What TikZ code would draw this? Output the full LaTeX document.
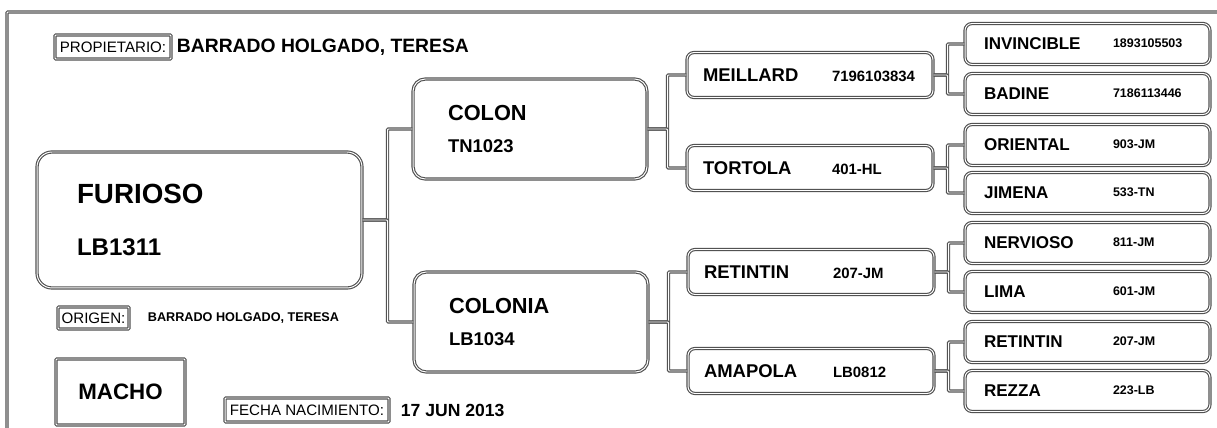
\documentclass[tikz,border=0pt]{standalone}
\usepackage{fontspec}
\setmainfont{Liberation Sans}
\usetikzlibrary{positioning}
\newcommand\idb[1]{{\fontsize{8.5}{10}\selectfont#1}}
\newcommand\idc[1]{\raisebox{1.2pt}{\fontsize{7.1}{9}\selectfont#1}}
\tikzset{dl/.style={draw=black!68,double=white,double distance=0.55pt,line width=0.65pt},
tag/.style={dl,rounded corners=0.5pt,inner sep=0pt,font=\fontsize{8.6}{10}\selectfont},
txt/.style={inner sep=0pt,font=\bfseries\fontsize{11}{13}\selectfont},
big/.style={dl,rounded corners=8.5pt,minimum width=6.5cm,minimum height=2.72cm,inner xsep=0.8cm,text width=4.9cm,align=left,font=\bfseries\fontsize{15.8}{30}\selectfont},
mid/.style={dl,rounded corners=7pt,minimum width=4.68cm,minimum height=2cm,inner xsep=0.7cm,text width=3.28cm,align=left,font=\bfseries\fontsize{12.4}{18.7}\selectfont},
gtwo/.style={dl,rounded corners=4pt,minimum width=4.92cm,minimum height=0.9cm,inner xsep=0.32cm,text width=4.28cm,align=left,font=\bfseries\fontsize{10.5}{12}\selectfont},
gthree/.style={dl,rounded corners=4pt,minimum width=4.9cm,minimum height=0.82cm,inner xsep=0.38cm,text width=4.14cm,align=left,font=\bfseries\fontsize{9.7}{11}\selectfont}}
\begin{document}
\begin{tikzpicture}[x=0.02cm,y=0.02cm]
\useasboundingbox(0,0)rectangle(1217,-428);
\draw[dl,rounded corners=0.5pt](7,-440)--(7,-12)--(1230,-12);
% header and footer
\node[tag,minimum width=2.32cm,minimum height=0.48cm](prop)at(113,-47){PROPIETARIO:};
\node[txt,right=0.1cm of prop](owner){BARRADO HOLGADO, TERESA};
\node[tag,minimum width=1.42cm,minimum height=0.44cm](orig)at(93.5,-318){ORIGEN:};
\node[txt,font=\bfseries\fontsize{7.2}{9}\selectfont,right=0.36cm of orig](breeder){BARRADO HOLGADO, TERESA};
\node[dl,rounded corners=0.5pt,minimum width=2.58cm,minimum height=1.32cm,font=\bfseries\fontsize{12.7}{14}\selectfont](sex)at(120.5,-392){MACHO};
\node[tag,minimum width=3.28cm,minimum height=0.48cm](born)at(307,-410){FECHA NACIMIENTO:};
\node[txt,font=\bfseries\fontsize{10}{12}\selectfont,right=0.22cm of born](date){17 JUN 2013};
% pedigree
\node[big](furioso)at(199.5,-220){FURIOSO\\{\fontsize{13.7}{16}\selectfont LB1311}};
\node[mid](colon)at(530,-129){COLON\\{\fontsize{10.5}{12}\selectfont TN1023}};
\node[mid](colonia)at(531,-322){COLONIA\\{\fontsize{10.5}{12}\selectfont LB1034}};
\node[gtwo](meillard)at(810,-75){\makebox[2.58cm][l]{MEILLARD}\idb{7196103834}};
\node[gtwo](tortola)at(810,-168){\makebox[2.58cm][l]{TORTOLA}\idb{401-HL}};
\node[gtwo](retintin)at(811,-272){\makebox[2.58cm][l]{RETINTIN}\idb{207-JM}};
\node[gtwo](amapola)at(811,-371){\makebox[2.58cm][l]{AMAPOLA}\idb{LB0812}};
\node[gthree](invincible)at(1087.5,-44){\makebox[2.58cm][l]{INVINCIBLE}\idc{1893105503}};
\node[gthree](badine)at(1087.5,-94){\makebox[2.58cm][l]{BADINE}\idc{7186113446}};
\node[gthree](oriental)at(1087.5,-145){\makebox[2.58cm][l]{ORIENTAL}\idc{903-JM}};
\node[gthree](jimena)at(1087.5,-193){\makebox[2.58cm][l]{JIMENA}\idc{533-TN}};
\node[gthree](nervioso)at(1087.5,-243){\makebox[2.58cm][l]{NERVIOSO}\idc{811-JM}};
\node[gthree](lima)at(1087.5,-292){\makebox[2.58cm][l]{LIMA}\idc{601-JM}};
\node[gthree](retintinb)at(1087.5,-342){\makebox[2.58cm][l]{RETINTIN}\idc{207-JM}};
\node[gthree](rezza)at(1087.5,-391){\makebox[2.58cm][l]{REZZA}\idc{223-LB}};
\foreach\a/\b/\d in{furioso/colon/25,furioso/colonia/25,colon/meillard/20,colon/tortola/20,colonia/retintin/20,colonia/amapola/20,meillard/invincible/14,meillard/badine/14,tortola/oriental/14,tortola/jimena/14,retintin/nervioso/14,retintin/lima/14,amapola/retintinb/14,amapola/rezza/14}\draw[dl,rounded corners=0.5pt](\a.east)--++(\d,0)|-(\b.west);
\end{tikzpicture}
\end{document}
